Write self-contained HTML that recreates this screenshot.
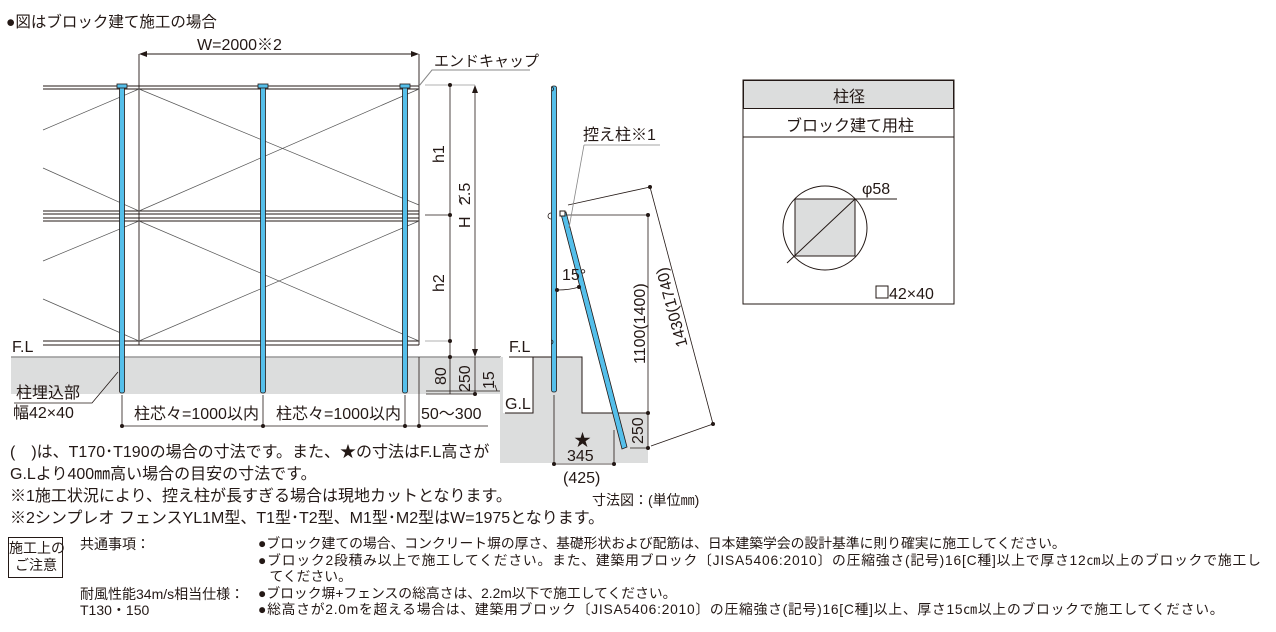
<!DOCTYPE html>
<html><head><meta charset="utf-8"><style>
body{margin:0;background:#fff;width:1276px;height:632px;overflow:hidden;position:relative;font-family:"Liberation Sans","Noto Sans CJK JP",sans-serif;color:#231815}
.t{position:absolute;white-space:nowrap}
svg{position:absolute;left:0;top:0}
</style></head><body>
<svg width="1276" height="632" viewBox="0 0 1276 632" font-family="Liberation Sans, Noto Sans CJK JP, sans-serif" fill="none">
<rect x="11" y="357" width="490" height="37" fill="#dcdddd"/>
<line x1="11" y1="357" x2="501" y2="357" stroke="#999" stroke-width="1.5"/>
<g stroke="#231815" stroke-width="0.9">
<line x1="43" y1="86" x2="419" y2="86"/><line x1="43" y1="89" x2="419" y2="89"/>
<line x1="43" y1="211" x2="419" y2="211"/><line x1="43" y1="214" x2="419" y2="214"/>
<line x1="43" y1="218" x2="419" y2="218"/><line x1="43" y1="221" x2="419" y2="221"/>
<line x1="43" y1="341" x2="419" y2="341"/><line x1="43" y1="345" x2="419" y2="345"/>
<line x1="139" y1="86" x2="139" y2="345"/><line x1="419" y1="86" x2="419" y2="345"/>
<line x1="139" y1="54" x2="139" y2="86"/><line x1="419" y1="54" x2="419" y2="86"/>
</g>
<g stroke="#555" stroke-width="0.7">
<line x1="139" y1="89" x2="419" y2="205"/><line x1="139" y1="211" x2="419" y2="89"/>
<line x1="139" y1="221" x2="419" y2="341"/><line x1="139" y1="341" x2="419" y2="221"/>
<line x1="43" y1="130" x2="139" y2="89"/><line x1="43" y1="168" x2="139" y2="211"/>
<line x1="43" y1="261" x2="139" y2="221"/><line x1="43" y1="299" x2="139" y2="341"/>
</g>
<g fill="#55bfea" stroke="#231815" stroke-width="0.8">
<rect x="119.5" y="86" width="5" height="307" rx="2"/>
<rect x="260.5" y="86" width="5" height="307" rx="2"/>
<rect x="402.5" y="86" width="5" height="307" rx="2"/>
<rect x="117" y="84" width="10" height="4"/>
<rect x="258" y="84" width="10" height="4"/>
<rect x="400" y="84" width="10" height="4"/>
</g>
<line x1="142" y1="54" x2="416" y2="54" stroke="#231815"/>
<path d="M139 54 l8 -3 v6z M419 54 l-8 -3 v6z" fill="#231815"/>
<path d="M419 86 L432 70 H530" stroke="#888"/>
<g stroke="#231815" stroke-width="0.8">
<line x1="425" y1="85" x2="475" y2="85" stroke="#999"/>
<line x1="425" y1="215" x2="450" y2="215"/>
<line x1="425" y1="341" x2="450" y2="341" stroke="#999"/>
<line x1="450" y1="85" x2="450" y2="357"/>
<line x1="475" y1="90" x2="475" y2="352"/>
<line x1="475" y1="357" x2="475" y2="394"/>
<line x1="426" y1="391" x2="500" y2="391"/><line x1="426" y1="394" x2="475" y2="394"/>
<line x1="450" y1="357" x2="450" y2="394"/>
<line x1="419" y1="357" x2="419" y2="426"/>
<line x1="122" y1="395" x2="122" y2="426"/><line x1="263" y1="395" x2="263" y2="426"/><line x1="405" y1="395" x2="405" y2="426"/>
<line x1="122" y1="426" x2="488" y2="426"/>
<line x1="459" y1="195" x2="462" y2="205"/>
<line x1="495" y1="385" x2="497" y2="391"/>
</g>
<path d="M475 85 l-3 8 h6z M475 357 l-3 -8 h6z" fill="#231815"/>
<g fill="#231815"><circle cx="450" cy="85" r="2"/><circle cx="450" cy="215" r="2"/><circle cx="450" cy="341" r="2"/><circle cx="450" cy="357" r="2"/><circle cx="475" cy="394" r="2"/>
<circle cx="122" cy="426" r="2"/><circle cx="263" cy="426" r="2"/><circle cx="405" cy="426" r="2"/><circle cx="419" cy="426" r="2"/></g>
<path d="M118 372 L92 403 H14" stroke="#231815" stroke-width="0.8"/>
<path d="M533 357 H582 V413 H648 V463 H500 V413 H533Z" fill="#dcdddd"/>
<path d="M509 357 H582 V413 H648 M533 357 V413 H505" stroke="#231815"/>
<rect x="500" y="357" width="3" height="56" fill="#dcdddd"/>
<rect x="551.5" y="86" width="5" height="306" rx="2" fill="#55bfea" stroke="#231815" stroke-width="0.8"/>
<path d="M561 214 L566 212 L627 447 L622 449Z" fill="#55bfea" stroke="#231815" stroke-width="0.8"/>
<rect x="560" y="211" width="5" height="5" stroke="#231815" fill="#fff"/>
<g stroke="#231815" stroke-width="0.8">
<path d="M551 87 a2 2 0 1 1 1 4 M551 213 a3 3 0 1 0 0 6 M551 340 a2 2 0 1 1 0 4"/>
<line x1="566" y1="215" x2="648" y2="215"/>
<line x1="648" y1="215" x2="648" y2="448"/>
<line x1="630" y1="448" x2="648" y2="448"/>
<line x1="568" y1="205" x2="650" y2="187"/>
<line x1="650" y1="187" x2="713" y2="424"/>
<line x1="651" y1="446" x2="713" y2="424"/>
<line x1="554" y1="395" x2="554" y2="464"/><line x1="614" y1="430" x2="614" y2="464"/>
<line x1="554" y1="464" x2="614" y2="464"/>
<path d="M557 290 Q570 290 579 287"/>
<path d="M584 145 H660 M584 145 L569 228" stroke="#888"/>
</g>
<g fill="#231815"><circle cx="648" cy="215" r="2"/><circle cx="648" cy="413" r="2"/><circle cx="648" cy="448" r="2"/><circle cx="650" cy="187" r="2"/><circle cx="713" cy="424" r="2"/><circle cx="554" cy="464" r="2"/><circle cx="614" cy="464" r="2"/><circle cx="557" cy="290" r="2"/><circle cx="579" cy="287" r="2"/></g>
<rect x="743" y="80" width="211" height="224" stroke="#231815" fill="#fff"/>
<rect x="743.5" y="80.5" width="210" height="28" fill="#dcdddd" stroke="#231815"/>
<line x1="743" y1="137" x2="954" y2="137" stroke="#231815"/>
<circle cx="825" cy="228" r="42" stroke="#231815"/>
<rect x="795" y="199" width="60" height="57" fill="#dcdddd" stroke="#231815"/>
<path d="M787 263 L855 199 L897 199" stroke="#231815"/>
<rect x="876" y="286" width="12" height="12" stroke="#231815"/>
<rect x="8.5" y="537.5" width="54" height="40" stroke="#231815"/>
<g fill="#231815" font-size="16">
<text x="197" y="50">W=2000※2</text>
<text x="434" y="66" font-size="15">エンドキャップ</text>
<text transform="translate(444,163) rotate(-90)">h1</text>
<text transform="translate(444,292) rotate(-90)">h2</text>
<text transform="translate(470,205) rotate(-90)">2.5</text>
<text transform="translate(470,228) rotate(-90)">H</text>
<text transform="translate(446,385) rotate(-90)">80</text>
<text transform="translate(470,392) rotate(-90)">250</text>
<text transform="translate(494,389) rotate(-90)">15</text>
<text x="12" y="352">F.L</text>
<text x="16" y="398">柱埋込部</text>
<text x="13" y="418">幅42×40</text>
<text x="134" y="419">柱芯々=1000以内</text>
<text x="276" y="419">柱芯々=1000以内</text>
<text x="421" y="419">50～300</text>
<text x="509" y="352">F.L</text>
<text x="505" y="409">G.L</text>
<text x="583" y="140">控え柱※1</text>
<text x="562" y="280">15°</text>
<text transform="translate(645,364) rotate(-90)">1100(1400)</text>
<text transform="translate(677,306) rotate(-105)" text-anchor="middle">1430(1740)</text>
<text transform="translate(643,444) rotate(-90)">250</text>
<text x="574" y="446" font-size="17">★</text>
<text x="567" y="461">345</text>
<text x="563" y="483">(425)</text>
<text x="592" y="505" font-size="14">寸法図：(単位㎜)</text>
<text x="833" y="102">柱径</text>
<text x="786" y="131">ブロック建て用柱</text>
<text x="862" y="194">φ58</text>
<text x="889" y="299">42×40</text>
</g>
</svg>
<div class="t" style="left:6px;top:10px;font-size:15.5px">●図はブロック建て施工の場合</div>
<div class="t" style="left:10px;top:442px;font-size:16px;line-height:22px">(　)は、T170･T190の場合の寸法です。また、★の寸法はF.L高さが<br>G.Lより400㎜高い場合の目安の寸法です。<br>※1施工状況により、控え柱が長すぎる場合は現地カットとなります。<br>※2シンプレオ フェンスYL1M型、T1型･T2型、M1型･M2型はW=1975となります。</div>
<div class="t" style="left:9px;top:540px;width:54px;text-align:center;font-size:14px;line-height:17px">施工上の<br>ご注意</div>
<div class="t" style="left:80px;top:536px;font-size:14px;line-height:16.5px">共通事項：<br><br><br>耐風性能34m/s相当仕様：<br>T130・150</div>
<div class="t" style="left:258px;top:536px;font-size:13.8px;line-height:16.5px">●ブロック建ての場合、コンクリート塀の厚さ、基礎形状および配筋は、日本建築学会の設計基準に則り確実に施工してください。<br><span style="letter-spacing:0.8px">●ブロック2段積み以上で施工してください。また、建築用ブロック〔JISA5406:2010〕の圧縮強さ(記号)16[C種]以上で厚さ12㎝以上のブロックで施工し</span><br>&nbsp;&nbsp;&nbsp;てください。<br>●ブロック塀+フェンスの総高さは、2.2m以下で施工してください。<br><span style="letter-spacing:0.75px">●総高さが2.0mを超える場合は、建築用ブロック〔JISA5406:2010〕の圧縮強さ(記号)16[C種]以上、厚さ15㎝以上のブロックで施工してください。</span></div>
</body></html>
